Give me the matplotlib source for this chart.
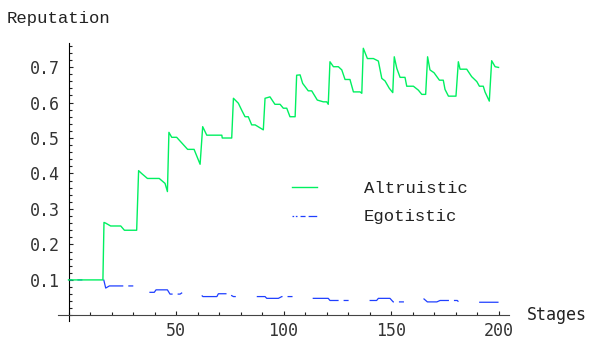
import matplotlib
matplotlib.use('Agg')
import matplotlib.pyplot as plt
from matplotlib.lines import Line2D
from matplotlib.ticker import MultipleLocator

# reputation of altruistic agents per stage
alt_stage = [0, 16, 16.5, 17.3, 19.6, 24.3, 26, 31.7, 32.6, 34, 36.7, 42.2, 44.9, 46,
             46.7, 48.0, 50.3, 55.4, 58.4, 61.2, 62.4, 64.3, 71.3, 71.5, 75.9,
             76.7, 79.0, 80.5, 82.1, 83.6, 85.2, 86.8, 90.6,
             91.4, 93.7, 96.0, 98.4, 99.9, 101.5, 103.0, 105.4,
             106.1, 107.7, 108.9, 111.5, 113.1, 115.7, 118.5, 120.1, 120.8,
             121.6, 123.2, 125.5, 127.1, 128.6, 130.9, 132.5, 135.6, 136.4,
             137.1, 139.0, 141.8, 144.1, 145.7, 147.2, 149.2, 150.8,
             151.5, 152.7, 154.2, 156.5, 157.3, 160.4, 162.7, 164.3, 166.1,
             167.0, 168.1, 170.0, 172.5, 174.3, 175.1, 176.7, 180.2,
             181.3, 182.1, 185.2, 187.5, 189.9, 191.1, 192.9, 193.7, 195.7,
             196.8, 198.4, 200]
alt_rep = [0.1, 0.1, 0.262, 0.26, 0.252, 0.252, 0.24, 0.24, 0.408, 0.40, 0.386, 0.386, 0.372, 0.349,
           0.516, 0.502, 0.502, 0.468, 0.468, 0.426, 0.532, 0.508, 0.508, 0.50, 0.50,
           0.612, 0.598, 0.579, 0.56, 0.56, 0.537, 0.537, 0.523,
           0.612, 0.616, 0.595, 0.595, 0.584, 0.584, 0.56, 0.56,
           0.677, 0.678, 0.654, 0.633, 0.633, 0.607, 0.602, 0.602, 0.595,
           0.715, 0.701, 0.701, 0.692, 0.665, 0.665, 0.63, 0.63, 0.626,
           0.753, 0.724, 0.724, 0.717, 0.668, 0.661, 0.64, 0.628,
           0.729, 0.696, 0.671, 0.671, 0.646, 0.646, 0.635, 0.623, 0.623,
           0.729, 0.692, 0.684, 0.663, 0.663, 0.637, 0.618, 0.618,
           0.715, 0.694, 0.694, 0.673, 0.659, 0.646, 0.646, 0.63, 0.604,
           0.718, 0.701, 0.699]

# reputation of egotistic agents per stage
ego_stage = [0, 16.4, 17.3, 19, 32.2, 33, 39.9, 40.7, 46, 47.2, 51.9, 53.1, 60.5, 62.5,
             69, 69.7, 74.3, 76.7, 91.4, 92.2, 97.6, 99.2, 105.4, 106.1, 120.8, 121.6,
             143.3, 144.1, 149.5, 151, 160, 161, 164, 165, 166.9, 171.3, 172.8,
             180.8, 181.6, 200]
ego_rep = [0.1, 0.1, 0.077, 0.083, 0.083, 0.065, 0.065, 0.072, 0.072, 0.06, 0.06, 0.065, 0.065, 0.053,
           0.053, 0.061, 0.061, 0.053, 0.053, 0.048, 0.048, 0.053, 0.053, 0.048, 0.048, 0.042,
           0.042, 0.048, 0.048, 0.038, 0.038, 0.044, 0.044, 0.048, 0.038, 0.038, 0.042,
           0.042, 0.037, 0.037]

labels = ['Altruistic', 'Egotistic']
green = '#00f060'
blue = '#1f3fff'

plt.rcParams['lines.scale_dashes'] = False
W, H = 589, 339
fig = plt.figure(figsize=(W / 100, H / 100), dpi=100)
ax = fig.add_axes([58.4 / W, 1 - 320.7 / H, (509.3 - 58.4) / W, (320.7 - 43.3) / H])
ax.set_xlim(-4.7, 205)
ax.set_ylim(-0.015, 0.767)

# blue under the green, long-short dash pattern like the original
ax.plot(ego_stage, ego_rep, color=blue, lw=0.9,
        linestyle=(16.6, (19.4, 3.6, 3.6, 15.1)), zorder=2)
ax.plot(alt_stage, alt_rep, color=green, lw=1.0, zorder=3)

# axes crossing at origin
for s in ['top', 'right']:
    ax.spines[s].set_visible(False)
ax.spines['left'].set_position(('data', 0))
ax.spines['bottom'].set_position(('data', 0))
ax.spines['left'].set_linewidth(0.8)
ax.spines['bottom'].set_linewidth(0.8)
ax.spines['bottom'].set_color('#444444')

ax.xaxis.set_major_locator(MultipleLocator(50))
ax.xaxis.set_minor_locator(MultipleLocator(10))
ax.yaxis.set_major_locator(MultipleLocator(0.1))
ax.yaxis.set_minor_locator(MultipleLocator(0.02))
ax.set_xticks([50, 100, 150, 200])
ax.set_yticks([0.1, 0.2, 0.3, 0.4, 0.5, 0.6, 0.7])
ax.set_yticklabels(['0.1', '0.2', '0.3', '0.4', '0.5', '0.6', '0.7'])

ax.tick_params(which='both', direction='in', width=0.8, colors='#222222',
               labelcolor='#333333', labelsize=12)
ax.tick_params(which='major', length=3.2)
ax.tick_params(which='minor', length=2.0)
ax.tick_params(axis='y', pad=6)
ax.tick_params(axis='x', pad=5)
for t in ax.get_xticklabels() + ax.get_yticklabels():
    t.set_family('DejaVu Sans Mono')

fig.text(7 / W, 1 - 23 / H, 'Reputation', family='Liberation Mono', fontsize=12.4,
         color='#222222', va='baseline', ha='left')
fig.text(526.7 / W, 1 - 320 / H, 'Stages', family='DejaVu Sans Mono', fontsize=12,
         color='#222222', va='baseline', ha='left')

# legend drawn by hand like the Mathematica one
fig.add_artist(Line2D([291.7 / W, 316.7 / W], [1 - 186.7 / H] * 2,
                      transform=fig.transFigure, color=green, lw=1.0))
fig.add_artist(Line2D([291.7 / W, 316.7 / W], [1 - 216 / H] * 2,
                      transform=fig.transFigure, color=blue, lw=0.9,
                      linestyle=(0, (1.2, 1.2, 1.2, 2.2, 3.6, 2.2, 6.2, 10))))
fig.text(364 / W, 1 - 193.3 / H, labels[0], family='Liberation Mono', fontsize=12.4,
         color='#222222', va='baseline', ha='left')
fig.text(364 / W, 1 - 220.5 / H, labels[1], family='Liberation Mono', fontsize=12.4,
         color='#222222', va='baseline', ha='left')

fig.savefig('out.png', dpi=100)
